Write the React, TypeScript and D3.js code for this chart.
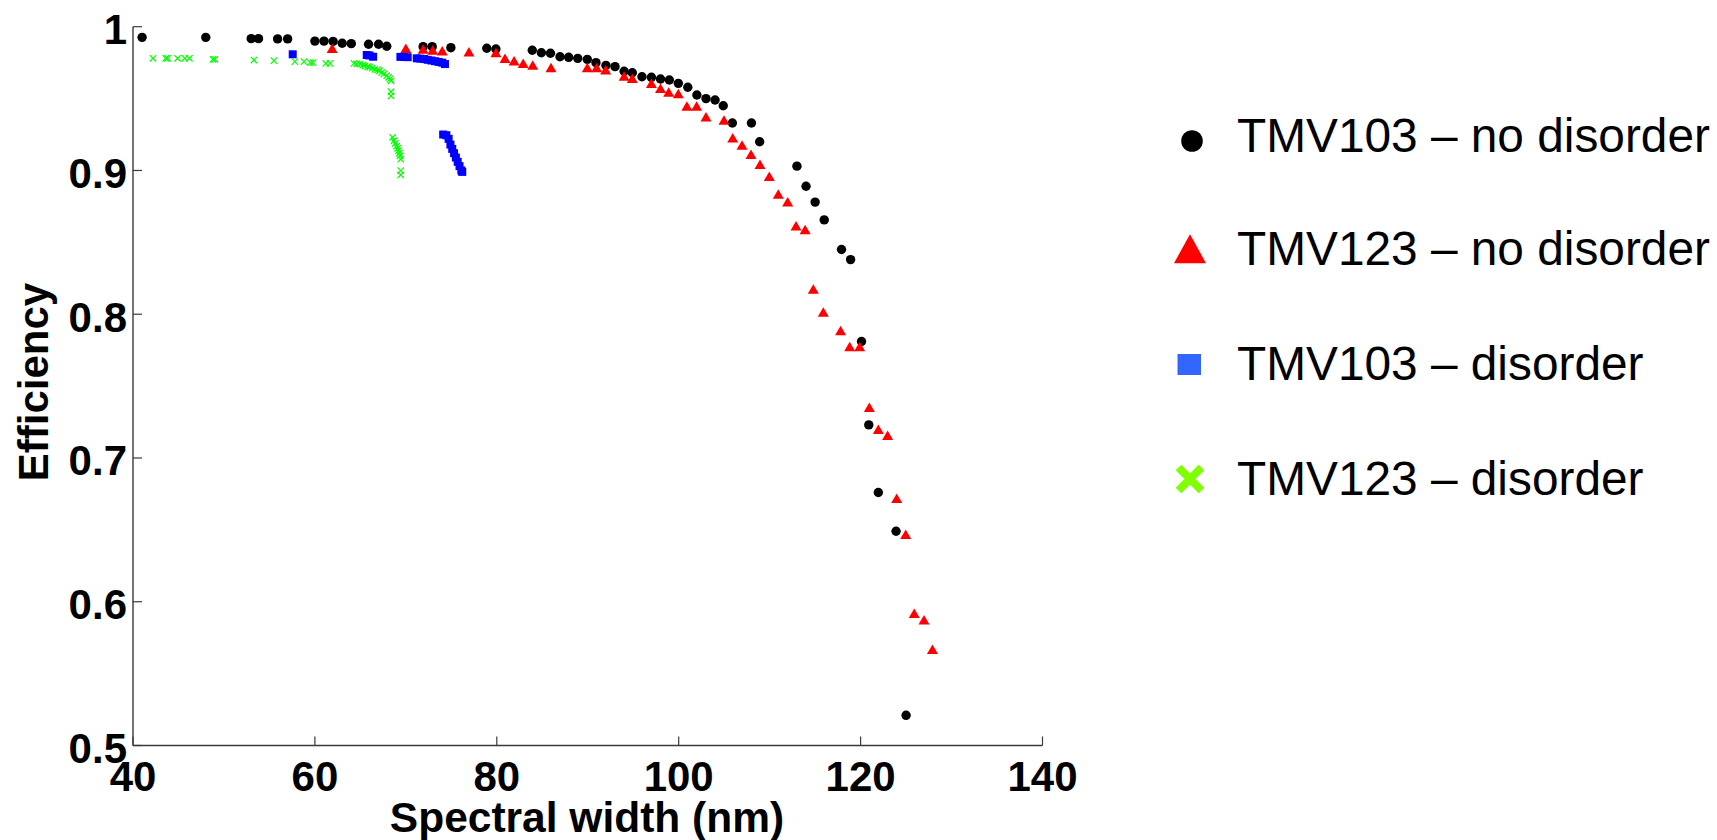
import React from "react";
import * as d3 from "d3";

// ---- Data ----
const tmv103NoDisorder: [number, number][] = [
  [41, 0.9926], [48, 0.9926], [53, 0.9917], [53.8, 0.9917], [55.9, 0.9915], [57, 0.9915],
  [60, 0.990], [61, 0.990], [62, 0.9898], [63, 0.9885], [64, 0.9882], [65.9, 0.9878],
  [67, 0.9878], [67.9, 0.9864], [71.9, 0.9861], [72.9, 0.9861], [74.95, 0.9854], [78.9, 0.985],
  [79.9, 0.9845], [83.9, 0.9836], [84.9, 0.9819], [85.9, 0.9815], [86.95, 0.9791], [87.9, 0.9787],
  [88.9, 0.978], [89.95, 0.9773], [90.9, 0.975], [92, 0.9731], [93, 0.9722], [94, 0.969],
  [94.9, 0.968], [95.96, 0.9652], [97, 0.9648], [98, 0.9636], [98.97, 0.9629], [99.96, 0.9606],
  [101, 0.9579], [102, 0.9525], [103, 0.950], [104, 0.949], [104.9, 0.945], [105.9, 0.933],
  [108, 0.933], [108.9, 0.920], [113, 0.903], [114, 0.889], [115, 0.878], [116, 0.8656],
  [117.9, 0.845], [118.9, 0.838], [120.1, 0.781], [120.9, 0.723], [121.95, 0.676], [123.9, 0.649],
  [125, 0.521],
];

const tmv123NoDisorder: [number, number][] = [
  [61.9, 0.985], [70, 0.985], [71.9, 0.9845], [72.95, 0.9838], [74, 0.9833], [76.94, 0.9826],
  [79.9, 0.982], [80.9, 0.978], [81.9, 0.9764], [82.9, 0.9745], [83.95, 0.9734], [85.96, 0.9717],
  [89.95, 0.9717], [90.98, 0.9717], [91.97, 0.970], [94, 0.9657], [94.9, 0.9641], [97, 0.9606],
  [98, 0.9572], [98.9, 0.9546], [99.96, 0.9535], [100.9, 0.9449], [101.97, 0.9449], [103, 0.9374],
  [104.98, 0.9351], [105.94, 0.9228], [106.96, 0.9177], [107.95, 0.9113], [108.94, 0.9043], [109.96, 0.896],
  [110.95, 0.8837], [111.98, 0.8783], [112.9, 0.8615], [113.9, 0.859], [114.8, 0.8176], [115.9, 0.8016],
  [117.8, 0.7886], [118.8, 0.7775], [119.9, 0.7775], [120.96, 0.7353], [121.95, 0.72], [122.97, 0.7158],
  [123.97, 0.672], [124.96, 0.647], [125.9, 0.592], [126.97, 0.5874], [127.9, 0.567],
];

const tmv103Disorder: [number, number][] = [
  [57.56, 0.9808], [65.7, 0.9803], [66.0, 0.9800], [66.4, 0.9791], [69.4, 0.979], [69.8, 0.979],
  [70.2, 0.9788], [71.2, 0.978], [71.6, 0.9778], [72.0, 0.9775], [72.4, 0.977], [72.8, 0.9765],
  [73.2, 0.976], [73.6, 0.9755], [74.0, 0.975], [74.3, 0.974],
  [74.1, 0.925], [74.45, 0.9245], [74.7, 0.922], [74.9, 0.918], [75.1, 0.915], [75.3, 0.912],
  [75.5, 0.909], [75.7, 0.906], [75.9, 0.903], [76.1, 0.900], [76.2, 0.899],
];

const tmv123Disorder: [number, number][] = [
  [42.2, 0.978], [43.6, 0.978], [43.8, 0.978], [44.9, 0.978], [45.7, 0.978], [46.2, 0.978],
  [48.8, 0.9773], [49.0, 0.9773], [53.3, 0.9768], [55.5, 0.9764], [57.8, 0.9757], [58.8, 0.9757],
  [59.5, 0.975], [59.8, 0.975], [61.2, 0.9745], [61.66, 0.9745],
  [64.3, 0.9745], [64.6, 0.9741], [64.96, 0.9739], [65.3, 0.9734], [65.5, 0.9727], [65.8, 0.9722],
  [66.0, 0.9718], [66.3, 0.9712], [66.6, 0.9704], [66.9, 0.9699], [67.1, 0.9692], [67.35, 0.968],
  [67.6, 0.9671], [67.9, 0.9659], [68.1, 0.9648], [68.26, 0.9636], [68.37, 0.9624], [68.37, 0.9548],
  [68.37, 0.9518],
  [68.55, 0.9231], [68.7, 0.9207], [68.84, 0.9189], [68.99, 0.917], [69.1, 0.9154], [69.2, 0.9138],
  [69.28, 0.912], [69.35, 0.9101], [69.43, 0.9078], [69.43, 0.8999], [69.43, 0.8969],
];

const xTicks = [40, 60, 80, 100, 120, 140];
const yTicks = [0.5, 0.6, 0.7, 0.8, 0.9, 1];
const yTickLabels = ["0.5", "0.6", "0.7", "0.8", "0.9", "1"];
const legendLabels = [
  "TMV103 \u2013 no disorder",
  "TMV123 \u2013 no disorder",
  "TMV103 \u2013 disorder",
  "TMV123 \u2013 disorder",
];

const FONT = "'Liberation Sans', Arial, Helvetica, sans-serif";

export default function App() {
  const x = d3.scaleLinear().domain([40, 140]).range([133, 1042.5]);
  const y = d3.scaleLinear().domain([0.5, 1]).range([745.5, 26.7]);
  const axisColor = "#3a3a3a";

  const tri = (cx: number, cy: number, w: number, h: number) =>
    `M${cx},${cy - h / 2}L${cx + w / 2},${cy + h / 2}L${cx - w / 2},${cy + h / 2}Z`;
  const cross = (cx: number, cy: number, s: number) =>
    `M${cx - s},${cy - s}L${cx + s},${cy + s}M${cx - s},${cy + s}L${cx + s},${cy - s}`;

  const legendRows = [
    { text: 151.5, mark: 141 },
    { text: 265, mark: 248.7 },
    { text: 380, mark: 364.5 },
    { text: 495, mark: 479 },
  ];

  return (
    <svg
      width={1717}
      height={840}
      style={{ position: "fixed", left: 0, top: 0, background: "#fff" }}
      fontFamily={FONT}
    >
      <rect x={0} y={0} width={1717} height={840} fill="#fff" />

      {/* axes */}
      <line x1={x(40)} x2={x(40)} y1={y(1)} y2={y(0.5)} stroke={axisColor} strokeWidth={1.4} />
      <line x1={x(40)} x2={x(140)} y1={y(0.5)} y2={y(0.5)} stroke={axisColor} strokeWidth={1.4} />
      {yTicks.map((t, i) => (
        <g key={"yt" + i}>
          <line x1={x(40)} x2={x(40) + 9} y1={y(t)} y2={y(t)} stroke={axisColor} strokeWidth={1.2} />
          <text x={127} y={y(t) + 17.5} textAnchor="end" fontSize={42} fontWeight="bold" fill="#000">
            {yTickLabels[i]}
          </text>
        </g>
      ))}
      {xTicks.map((t) => (
        <g key={"xt" + t}>
          <line x1={x(t)} x2={x(t)} y1={y(0.5)} y2={y(0.5) - 9} stroke={axisColor} strokeWidth={1.2} />
          <text x={x(t)} y={791} textAnchor="middle" fontSize={42} fontWeight="bold" fill="#000">
            {t}
          </text>
        </g>
      ))}
      <text x={587} y={832} textAnchor="middle" fontSize={42.5} fontWeight="bold" fill="#000">
        Spectral width (nm)
      </text>
      <text
        transform={`translate(48, ${382}) rotate(-90)`}
        textAnchor="middle"
        fontSize={42}
        fontWeight="bold"
        fill="#000"
      >
        Efficiency
      </text>

      {/* series */}
      <g>
        {tmv103NoDisorder.map((d, i) => (
          <circle key={"b" + i} cx={x(d[0])} cy={y(d[1])} r={4.7} fill="#000" />
        ))}
      </g>
      <g>
        {tmv123NoDisorder.map((d, i) => (
          <path key={"r" + i} d={tri(x(d[0]), y(d[1]), 11, 9.5)} fill="#ff0000" />
        ))}
      </g>
      <g>
        {tmv103Disorder.map((d, i) => (
          <rect key={"s" + i} x={x(d[0]) - 4} y={y(d[1]) - 4} width={8} height={8} fill="#0000ff" />
        ))}
      </g>
      <g>
        {tmv123Disorder.map((d, i) => (
          <path key={"g" + i} d={cross(x(d[0]), y(d[1]), 3.2)} stroke="#00ff00" strokeWidth={1.2} fill="none" />
        ))}
      </g>

      {/* legend */}
      <circle cx={1192} cy={legendRows[0].mark} r={10.8} fill="#000" />
      <path d={tri(1190, legendRows[1].mark, 32, 29)} fill="#ff0000" />
      <rect x={1177.5} y={legendRows[2].mark - 10.5} width={23.5} height={21} fill="#3366ff" />
      <path d={cross(1190, legendRows[3].mark, 11.5)} stroke="#7fff00" strokeWidth={8} fill="none" />
      {legendLabels.map((l, i) => (
        <text key={"lg" + i} x={1237} y={legendRows[i].text} fontSize={47.8} fill="#000">
          {l}
        </text>
      ))}
    </svg>
  );
}
